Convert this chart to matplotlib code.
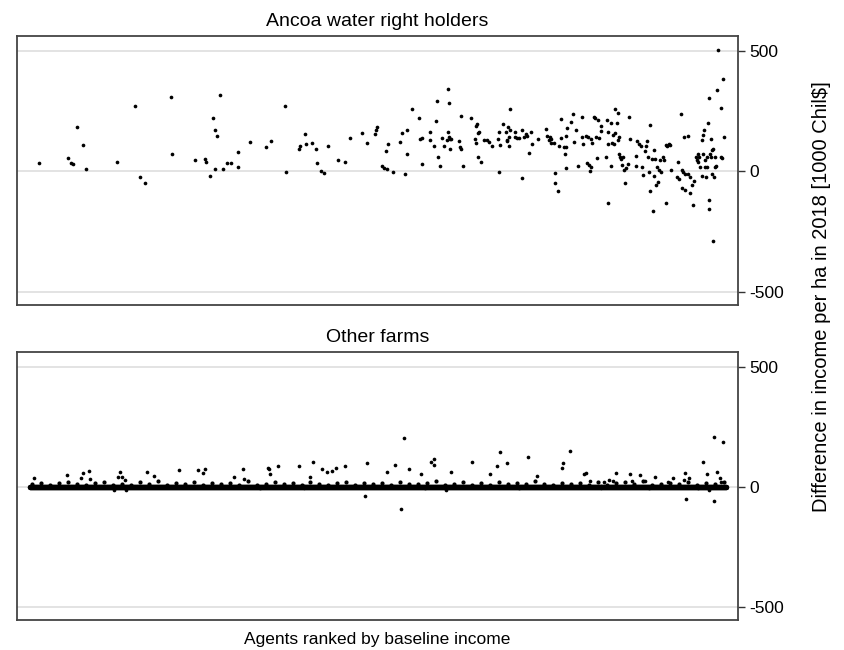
import numpy as np
import matplotlib
matplotlib.use("Agg")
import matplotlib.pyplot as plt

plt.rcParams['font.family'] = ['Liberation Sans', 'DejaVu Sans']

# Ancoa water right holders: (rank, difference in income per ha)
ancoa = [
    (39, 37), (68, 57), (71, 37), (73, 33), (77, 184), (83, 111), (86, 10), (117, 41),
    (135, 270), (140, -25), (145, -48), (171, 308), (172, 72), (195, 46),
    (205, 50), (206, 41), (210, -17), (213, 220), (215, 170), (217, 147), (215, 11),
    (220, 317), (223, 11), (227, 37), (231, 35), (238, 80), (238, 18), (250, 123),
    (266, 100), (271, 127), (285, 271), (286, -4), (299, 95), (300, 107), (306, 154),
    (307, 115), (313, 118), (317, 93), (318, 37), (322, 0), (325, -8), (329, 104),
    (339, 46), (346, 41), (351, 138), (363, 158), (368, 118), (376, 155), (377, 173),
    (378, 183), (383, 22), (385, 15), (387, 84), (389, 112), (388, 10),
    (394, -1), (401, 123), (403, 158), (406, -12), (408, 170), (408, 72), (413, 259),
    (420, 220), (421, 134), (423, 137), (423, 30), (431, 162), (431, 132), (435, 104),
    (437, 209), (438, 293), (439, 61), (441, 22), (443, 138), (445, 104), (448, 129),
    (449, 162), (450, 142), (451, 136), (451, 95), (452, 133), (449, 343), (450, 282),
    (460, 126), (461, 100), (462, 93), (462, 231), (464, 22), (472, 223), (476, 133),
    (477, 120), (477, 190), (478, 195), (479, 158), (480, 163), (479, 61), (482, 41),
    (485, 129), (488, 130), (490, 122), (493, 107), (499, 134), (500, 162), (501, 111),
    (500, -1), (504, 196), (507, 165), (508, 132), (508, 126), (509, 183), (510, 144),
    (510, 104), (511, 170), (511, 259), (516, 165), (516, 142), (518, 140), (520, 138),
    (523, -28), (523, 173), (525, 145), (527, 154), (528, 148), (530, 76), (532, 162),
    (533, 113), (539, 134), (547, 176), (548, 148), (550, 129), (551, 142), (552, 133),
    (552, 120), (555, 118), (556, -5), (556, -48), (559, -82), (560, 107), (562, 138),
    (562, 216), (565, 103), (566, 72), (567, 100), (567, 14), (567, 149), (568, 180),
    (572, 205), (574, 239), (575, 124), (577, 171), (579, 21),
    (583, 228), (583, 142), (584, 112), (587, 148), (588, 35), (589, 142), (590, 25),
    (591, 1), (592, 134), (592, 18), (593, 119), (595, 225), (596, 223), (597, 141),
    (598, 55), (599, 214), (600, 140), (602, 188), (602, 166), (607, 59), (608, 212),
    (609, -131), (609, 163), (609, 115), (612, 200), (612, 21), (613, 118), (614, 151),
    (615, 115), (616, 259), (616, 159), (618, 200), (619, 132), (619, 242), (620, 142),
    (620, 72), (621, 58), (622, 50), (623, 26), (624, 61), (625, 7), (626, -48),
    (627, 15), (629, 29), (630, 227), (631, 134), (637, 63), (637, 22), (638, 127),
    (640, 115), (642, 105), (643, 18), (644, -14), (646, 86), (647, 105), (648, 127),
    (649, 58), (650, -1), (651, 191), (651, -82), (653, 51), (654, -163), (655, 90),
    (655, -19), (656, 51), (657, -57), (658, 18), (659, -43), (660, 4), (661, 46),
    (662, -4), (664, 59), (665, 49), (667, 111), (667, -131), (668, 107), (670, 115),
    (671, 111), (672, 4), (678, -21), (679, 41), (680, -30), (682, 238), (683, 4),
    (683, -69), (684, -3), (685, 142), (686, -79), (686, -12), (689, 148), (689, -12),
    (691, -24), (691, -90), (693, -55), (694, -140), (695, -39), (697, 59), (698, 49),
    (699, 73), (699, 41), (700, 59), (701, 18), (703, 129), (703, -17), (704, 152),
    (704, 73), (705, 174), (706, 18), (706, 49), (707, -24), (708, 59), (708, 17),
    (709, 202), (710, 304), (710, -156), (710, -120), (711, 71), (712, 59), (712, 136),
    (713, -10), (714, -289), (713, 87), (714, 94), (715, -24), (716, 59), (716, 18),
    (717, 24), (718, 336), (719, 506), (722, 263), (722, 62), (723, 54), (724, 383),
    (725, 145),
]

# Other farms: visible outliers away from zero
other_out = [
    (34, 36), (67, 51), (83, 59), (89, 65), (81, 37), (90, 32), (114, -12), (120, 61),
    (118, 43), (122, 43), (125, 29), (126, -12), (147, 61), (154, 44), (179, 72),
    (198, 72), (203, 57), (205, 76), (234, 41), (243, 76), (244, 33), (268, 80),
    (269, 73), (270, 53), (278, 88), (299, 88), (311, 41), (314, 104), (323, 76),
    (328, 61), (333, 68), (337, 80), (346, 88), (366, -36), (368, 100), (260, -4),
    (388, 64), (396, 93), (405, 205), (402, -91), (410, 76), (422, 54), (426, -5),
    (432, 104), (435, 115), (435, 91), (447, -12), (452, 64), (473, 102), (491, 54),
    (498, 87), (501, 145), (508, 98), (529, 126), (538, 44), (520, -5), (563, 79),
    (564, 98), (571, 149), (585, 55), (587, 59), (591, 26), (605, 22), (610, 29),
    (614, 26), (617, 59), (631, 55), (633, 26), (641, 51), (646, 26), (650, -5),
    (656, 40), (669, 22), (674, 37), (686, 59), (685, 29), (690, 36), (687, -49),
    (699, -5), (704, 102), (708, 53), (710, -12), (715, 209), (715, -57), (718, 64),
    (721, 36), (722, 22), (724, 187),
]

# Other farms with no change in income (the solid band at zero)
other_zero_ranks = np.arange(30, 728, 0.5)

# small positive values just above the zero band
other_fringe = [12, 18, 9, 15, 22, 11, 7, 16, 20, 10, 14, 8, 19, 13, 24, 9, 17, 11, 21, 6,
                15, 12, 18, 10, 23, 8, 14, 19, 11, 16, 7, 20, 13, 9, 17, 22, 10, 15, 12, 18,
                8, 21, 14, 11, 16, 25, 9, 13, 19, 10, 15, 7, 20, 12, 17, 11, 23, 14, 9, 18,
                13, 16, 8, 21, 10, 15, 19, 12, 24, 9, 14, 17, 11, 20, 8, 16, 13, 22]
other_fringe_ranks = np.arange(32, 32 + 9 * len(other_fringe), 9)

yticks = [-500, 0, 500]

fig = plt.figure(figsize=(8.45, 6.5), dpi=100)
ax1 = fig.add_axes([0.0201, 0.5308, 0.853, 0.4138])
ax2 = fig.add_axes([0.0201, 0.0462, 0.853, 0.4123])

def style(ax, title):
    ax.set_xlim(17, 739)
    ax.set_ylim(-554, 562)
    ax.set_xticks([])
    ax.yaxis.tick_right()
    ax.set_yticks(yticks)
    ax.set_yticklabels([str(t) for t in yticks], fontsize=12.5)
    ax.tick_params(axis='y', length=5, width=1, color='#333333', pad=3)
    for t in yticks:
        ax.axhline(t, color='#e3e3e3', lw=1.4, zorder=0)
    for s in ax.spines.values():
        s.set_color('#444444')
        s.set_linewidth(1.3)
    ax.set_title(title, fontsize=14, pad=7)

a = np.array(ancoa)
ax1.scatter(a[:, 0], a[:, 1], s=7, color='black', linewidths=0, zorder=3)
style(ax1, 'Ancoa water right holders')

o = np.array(other_out)
ax2.scatter(other_zero_ranks, np.zeros(len(other_zero_ranks)), s=15, color='black', linewidths=0, zorder=3)
ax2.scatter(other_fringe_ranks, other_fringe, s=9, color='black', linewidths=0, zorder=3)
ax2.scatter(o[:, 0], o[:, 1], s=7, color='black', linewidths=0, zorder=3)
style(ax2, 'Other farms')

fig.text(0.9716, 0.543, 'Difference in income per ha in 2018 [1000 Chil$]',
         rotation=90, ha='center', va='center', fontsize=14.5)
fig.text(0.446, 0.016, 'Agents ranked by baseline income', ha='center', va='center', fontsize=12.5)

fig.savefig('out.png', dpi=100)
